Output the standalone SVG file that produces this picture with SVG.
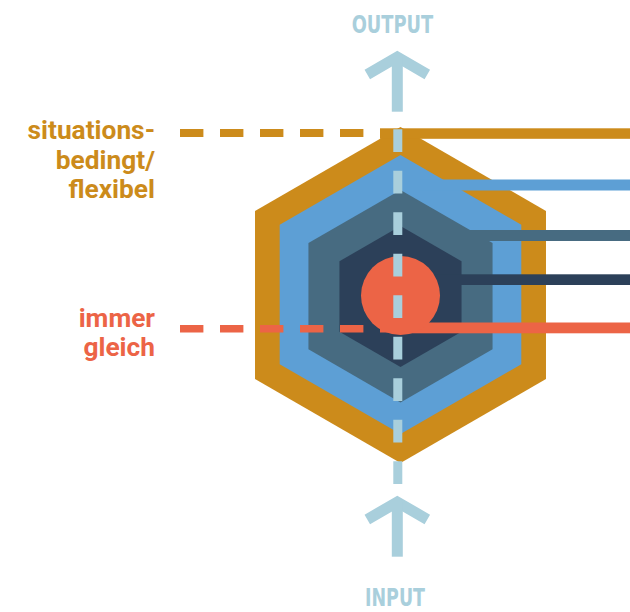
<svg xmlns="http://www.w3.org/2000/svg" width="630" height="612" viewBox="0 0 630 612">
  <style>
    .label { font-family: Roboto, "Liberation Sans", sans-serif; font-weight: 700; font-size: 26.3px; text-anchor: end; }
    .gold { fill: #cc8b1b; }
    .orange { fill: #ec6446; }
    .io { font-family: "DejaVu Sans Condensed", "DejaVu Sans", sans-serif; font-weight: 700; font-size: 25px; fill: #a9cfdc; }
    .arrow { fill: none; stroke: #a9cfdc; stroke-width: 11; }
  </style>
  <defs>
    <!-- pointy-top regular hexagon of circumradius 1 -->
    <polygon id="hex" points="0,-1 0.8660,-0.5 0.8660,0.5 0,1 -0.8660,0.5 -0.8660,-0.5"/>
    <!-- up arrow: chevron head over a shaft -->
    <g id="uparrow">
      <polyline class="arrow" points="-30,23.4 0,6.1 30,23.4" stroke-linejoin="miter"/>
      <line class="arrow" x1="0" y1="6" x2="0" y2="60.7"/>
    </g>
  </defs>

  <!-- nested layers -->
  <g id="layer-outer">
    <use href="#hex" transform="translate(400.5 295) scale(168)" fill="#cc8b1b"/>
    <rect x="380" y="128.3" width="250" height="10.5" fill="#cc8b1b"/>
  </g>
  <g id="layer-2">
    <use href="#hex" transform="translate(400.5 294.5) scale(139.5)" fill="#5d9fd5"/>
    <rect x="420" y="179.5" width="210" height="11" fill="#5d9fd5"/>
  </g>
  <g id="layer-3">
    <use href="#hex" transform="translate(400.5 296.2) scale(106.3)" fill="#476b81"/>
    <rect x="440" y="230" width="190" height="11" fill="#476b81"/>
  </g>
  <g id="layer-4">
    <use href="#hex" transform="translate(400.5 296.5) scale(70.5)" fill="#2c4059"/>
    <rect x="420" y="274.3" width="210" height="10.7" fill="#2c4059"/>
  </g>
  <g id="core">
    <rect x="400" y="322.5" width="230" height="10.8" fill="#ec6446"/>
    <circle cx="400.5" cy="295.5" r="39.5" fill="#ec6446"/>
  </g>

  <!-- guide lines and flow -->
  <g id="connectors">
    <line x1="180" y1="133" x2="392" y2="133" stroke="#cc8b1b" stroke-width="7.8" stroke-dasharray="23.4 16.6"/>
    <line x1="180" y1="328.7" x2="392" y2="328.7" stroke="#ec6446" stroke-width="7.4" stroke-dasharray="23.4 16.6"/>
    <line x1="397.8" y1="129.3" x2="397.8" y2="484" stroke="#a9cfdc" stroke-width="9" stroke-dasharray="22.7 18.8"/>
    <use href="#uparrow" transform="translate(397.3 51)"/>
    <use href="#uparrow" transform="translate(397.3 496)"/>
  </g>

  <g id="label-flexible">
    <text class="label gold" x="155" y="139.3">situations-</text>
    <text class="label gold" x="155" y="168.5">bedingt/</text>
    <text class="label gold" x="155" y="197.7">flexibel</text>
  </g>
  <g id="label-constant">
    <text class="label orange" x="155" y="326.7">immer</text>
    <text class="label orange" x="155" y="355.5">gleich</text>
  </g>
  <g id="label-output">
    <text class="io" x="351.7" y="33.3" textLength="81.6" lengthAdjust="spacingAndGlyphs">OUTPUT</text>
  </g>
  <g id="label-input">
    <text class="io" x="365" y="606" textLength="60" lengthAdjust="spacingAndGlyphs">INPUT</text>
  </g>
</svg>
